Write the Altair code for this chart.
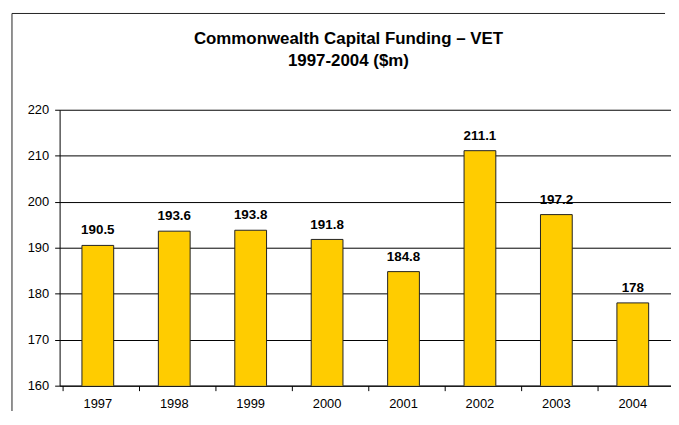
import altair as alt
import pandas as pd

years = ["1997", "1998", "1999", "2000", "2001", "2002", "2003", "2004"]
funding = [190.5, 193.6, 193.8, 191.8, 184.8, 211.1, 197.2, 178]
label_text = ["190.5", "193.6", "193.8", "191.8", "184.8", "211.1", "197.2", "178"]
title_lines = ["Commonwealth Capital Funding – VET", "1997-2004 ($m)"]

df = pd.DataFrame({"year": years, "value": funding, "label": label_text})
one = pd.DataFrame({"k": [0]})

FONT = "Liberation Sans"

x = alt.X("year:N", sort=years, title=None,
          axis=alt.Axis(labelAngle=0, bandPosition=0, ticks=True, tickSize=5,
                        tickColor="black", domainColor="black", labelPadding=7,
                        labelFontSize=13, labelColor="black", labelFont=FONT, grid=False))
y = alt.Y("value:Q", title=None,
          scale=alt.Scale(domain=[160, 220], nice=False, zero=False),
          axis=alt.Axis(values=[160, 170, 180, 190, 200, 210, 220], tickSize=5,
                        tickColor="black", domainColor="black", grid=True,
                        gridColor="black", gridOpacity=1, labelPadding=6,
                        labelFontSize=13, labelColor="black", labelFont=FONT))

bars = alt.Chart(df).mark_bar(size=32, color="#FFCC00", stroke="#222222",
                              strokeWidth=1, clip=True).encode(x=x, y=y)

labels = alt.Chart(df).mark_text(fontWeight="bold", fontSize=13.5, font=FONT,
                                 baseline="bottom", dy=-8, color="black").encode(
    x=alt.X("year:N", sort=years), y="value:Q", text="label:N")

title1 = alt.Chart(one).mark_text(fontWeight="bold", fontSize=17, font=FONT,
                                  color="black", baseline="middle", align="center").encode(
    x=alt.value(291), y=alt.value(-71), text=alt.value(title_lines[0]))
title2 = alt.Chart(one).mark_text(fontWeight="bold", fontSize=17, font=FONT,
                                  color="black", baseline="middle", align="center").encode(
    x=alt.value(291), y=alt.value(-49), text=alt.value(title_lines[1]))

frame_left = alt.Chart(one).mark_rule(color="#222222", strokeWidth=1).encode(
    x=alt.value(-48), y=alt.value(-97), y2=alt.value(310))
frame_top = alt.Chart(one).mark_rule(color="#222222", strokeWidth=1).encode(
    x=alt.value(-48), x2=alt.value(610), y=alt.value(-97))

chart = alt.layer(bars, labels, title1, title2, frame_left, frame_top).properties(
    width=616, height=278,
    autosize=alt.AutoSizeParams(type="none"),
    padding={"left": 52, "top": 101, "right": 0, "bottom": 24},
).configure_view(stroke=None).configure_axis(domainWidth=1, tickWidth=1, gridWidth=1)

chart.save("out.html", embed_options={"renderer": "svg", "actions": False})
